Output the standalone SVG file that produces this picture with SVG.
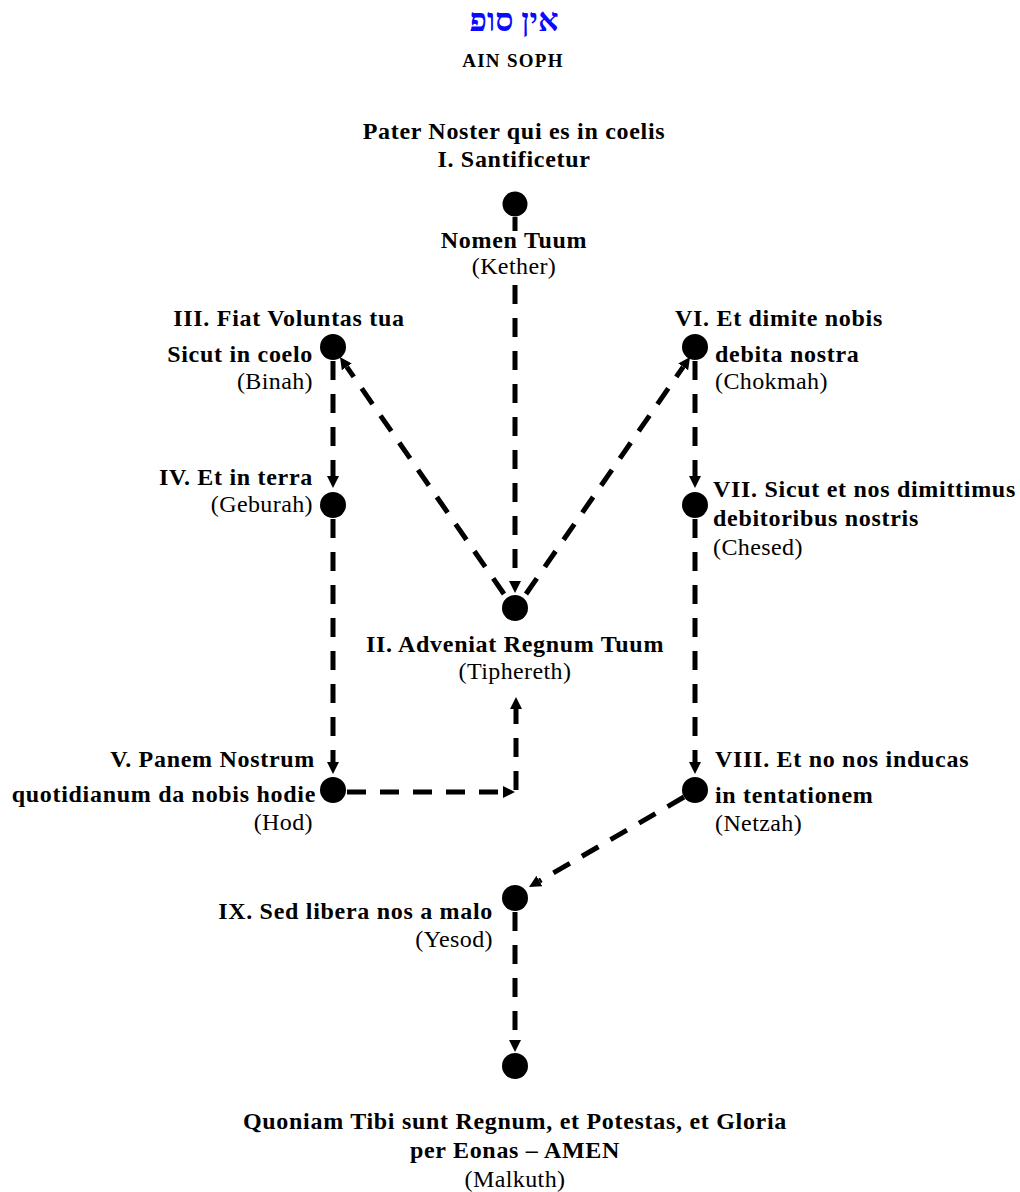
<svg xmlns="http://www.w3.org/2000/svg" width="1020" height="1192" viewBox="0 0 1020 1192">
<style>
text{font-family:"Liberation Serif","Times New Roman","DejaVu Serif",serif;fill:#000}
.b{font-weight:bold;font-size:24px;letter-spacing:0.7px}
.r{font-size:24px;letter-spacing:0.4px}
.m{text-anchor:middle}
.e{text-anchor:end}
.heb{font-weight:bold;font-size:32px;fill:#0a0aff}
.ain{font-weight:bold;font-size:19px;letter-spacing:1.3px}
.node circle{fill:#000}
.conn path{fill:none;stroke:#000;stroke-width:5;stroke-dasharray:19 14;marker-end:url(#ah)}
</style>
<defs>
<marker id="ah" viewBox="0 0 12 12" refX="0" refY="6" markerWidth="12" markerHeight="12" markerUnits="userSpaceOnUse" orient="auto">
<path d="M0,0 L12,6 L0,12 z" fill="#000"/>
</marker>
</defs>
<rect width="1020" height="1192" fill="#fff"/>
<g id="title">
<text class="heb m" x="514" y="31">אין סופ</text>
<text class="ain m" x="513" y="67">AIN SOPH</text>
</g>
<g class="conn" id="connectors">
<path d="M515,217 V231 M515,285 V581"/>
<path d="M504,594 L346.8,366.9"/>
<path d="M526,594 L683.2,366.9"/>
<path d="M333,361 V476"/>
<path d="M695,361 V476"/>
<path d="M333,519 V762"/>
<path d="M695,519 V762"/>
<path d="M347,792 H503"/>
<path d="M516,790 V709"/>
<path d="M684,797 L539.4,881"/>
<path d="M515,912 V1040"/>
</g>
<g class="node" id="kether">
<circle cx="515" cy="204" r="12.5"/>
<text class="b m" x="514" y="139">Pater Noster qui es in coelis</text>
<text class="b m" x="514" y="167">I. Santificetur</text>
<text class="b m" x="514" y="248">Nomen Tuum</text>
<text class="r m" x="514" y="274">(Kether)</text>
</g>
<g class="node" id="binah">
<circle cx="333" cy="347" r="13"/>
<text class="b m" x="289" y="326">III. Fiat Voluntas tua</text>
<text class="b e" x="313" y="362">Sicut in coelo</text>
<text class="r e" x="313" y="389">(Binah)</text>
</g>
<g class="node" id="chokmah">
<circle cx="695" cy="347" r="13"/>
<text class="b" x="675" y="326">VI. Et dimite nobis</text>
<text class="b" x="715" y="362">debita nostra</text>
<text class="r" x="715" y="389">(Chokmah)</text>
</g>
<g class="node" id="geburah">
<circle cx="333" cy="505" r="13"/>
<text class="b e" x="313" y="485">IV. Et in terra</text>
<text class="r e" x="313" y="512">(Geburah)</text>
</g>
<g class="node" id="chesed">
<circle cx="695" cy="505" r="13"/>
<text class="b" x="713" y="497">VII. Sicut et nos dimittimus</text>
<text class="b" x="713" y="526">debitoribus nostris</text>
<text class="r" x="713" y="555">(Chesed)</text>
</g>
<g class="node" id="tiphereth">
<circle cx="515" cy="608" r="13"/>
<text class="b m" x="515" y="652">II. Adveniat Regnum Tuum</text>
<text class="r m" x="515" y="679">(Tiphereth)</text>
</g>
<g class="node" id="hod">
<circle cx="333" cy="790" r="13"/>
<text class="b e" x="315" y="767">V. Panem Nostrum</text>
<text class="b e" x="316" y="802">quotidianum da nobis hodie</text>
<text class="r e" x="313" y="830">(Hod)</text>
</g>
<g class="node" id="netzah">
<circle cx="695" cy="790" r="13"/>
<text class="b" x="715" y="767">VIII. Et no nos inducas</text>
<text class="b" x="715" y="803">in tentationem</text>
<text class="r" x="715" y="831">(Netzah)</text>
</g>
<g class="node" id="yesod">
<circle cx="515" cy="898" r="13"/>
<text class="b e" x="493" y="919">IX. Sed libera nos a malo</text>
<text class="r e" x="493" y="947">(Yesod)</text>
</g>
<g class="node" id="malkuth">
<circle cx="515" cy="1066" r="13"/>
<text class="b m" x="515" y="1129">Quoniam Tibi sunt Regnum, et Potestas, et Gloria</text>
<text class="b m" x="515" y="1158">per Eonas – AMEN</text>
<text class="r m" x="515" y="1187">(Malkuth)</text>
</g>
</svg>
